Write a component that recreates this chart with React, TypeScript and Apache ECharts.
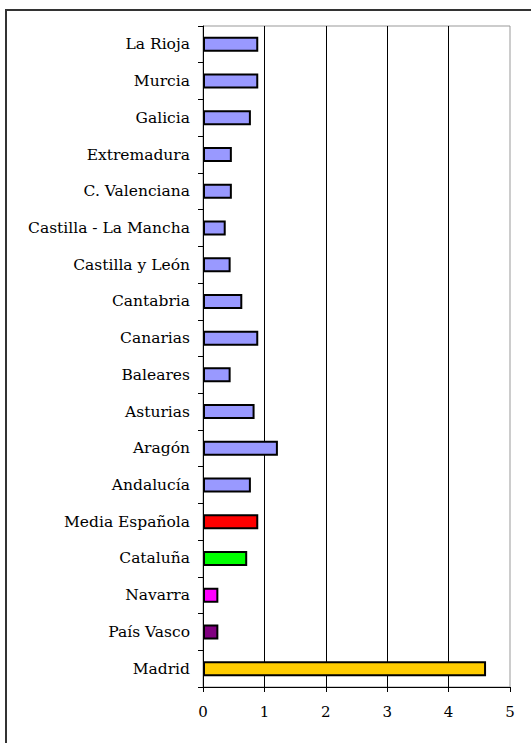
import React, { useEffect, useRef } from "react";
import * as echarts from "echarts";

const categories = [
  "La Rioja",
  "Murcia",
  "Galicia",
  "Extremadura",
  "C. Valenciana",
  "Castilla - La Mancha",
  "Castilla y León",
  "Cantabria",
  "Canarias",
  "Baleares",
  "Asturias",
  "Aragón",
  "Andalucía",
  "Media Española",
  "Cataluña",
  "Navarra",
  "País Vasco",
  "Madrid",
];

const values = [
  0.9, 0.9, 0.78, 0.47, 0.47, 0.37, 0.45, 0.64, 0.9, 0.45, 0.84, 1.22, 0.78,
  0.9, 0.72, 0.25, 0.25, 4.61,
];

const barColors = [
  "#9999FF", "#9999FF", "#9999FF", "#9999FF", "#9999FF", "#9999FF",
  "#9999FF", "#9999FF", "#9999FF", "#9999FF", "#9999FF", "#9999FF",
  "#9999FF", "#FF0000", "#00FF00", "#FF00FF", "#800080", "#FFCC00",
];

const xTicks = [0, 1, 2, 3, 4, 5];

export default function App() {
  const ref = useRef<HTMLDivElement>(null);
  useEffect(() => {
    if (!ref.current) return;
    const chart = echarts.init(ref.current, null, { renderer: "svg" });
    const font = "DejaVu Serif";
    chart.setOption({
      animation: false,
      backgroundColor: "#ffffff",
      textStyle: { fontFamily: font },
      grid: {
        left: 203,
        top: 26,
        right: 21,
        bottom: 56,
        show: true,
        borderColor: "#999999",
        borderWidth: 1,
        backgroundColor: "transparent",
      },
      graphic: [
        {
          type: "rect",
          shape: { x: 6, y: 10, width: 600, height: 800 },
          style: { fill: "none", stroke: "#333333", lineWidth: 2 },
          silent: true,
        },
      ],
      xAxis: {
        type: "value",
        min: xTicks[0],
        max: xTicks[xTicks.length - 1],
        interval: 1,
        axisLine: { show: true, lineStyle: { color: "#000", width: 1 } },
        axisTick: { show: true, length: 5, lineStyle: { color: "#000" } },
        axisLabel: {
          color: "#000",
          fontFamily: font,
          fontSize: 15,
          margin: 17,
          formatter: (v: number) => String(v),
        },
        splitLine: {
          show: true,
          showMinLine: false,
          showMaxLine: false,
          lineStyle: { color: "#000", width: 1 },
        },
      },
      yAxis: {
        type: "category",
        data: categories,
        inverse: true,
        axisLine: { show: true, lineStyle: { color: "#000", width: 1 } },
        axisTick: {
          show: true,
          inside: false,
          length: 5,
          alignWithLabel: false,
          lineStyle: { color: "#000" },
        },
        axisLabel: {
          color: "#000",
          fontFamily: font,
          fontSize: 15.5,
          margin: 13,
        },
        splitLine: { show: false },
      },
      series: [
        {
          type: "bar",
          barWidth: 15,
          data: values.map((v, i) => ({
            value: v,
            itemStyle: {
              color: barColors[i],
              borderColor: "#000",
              borderWidth: 2,
            },
          })),
        },
      ],
    });
    return () => chart.dispose();
  }, []);
  return (
    <div
      ref={ref}
      style={{ position: "fixed", left: 0, top: 0, width: 531, height: 743 }}
    />
  );
}
